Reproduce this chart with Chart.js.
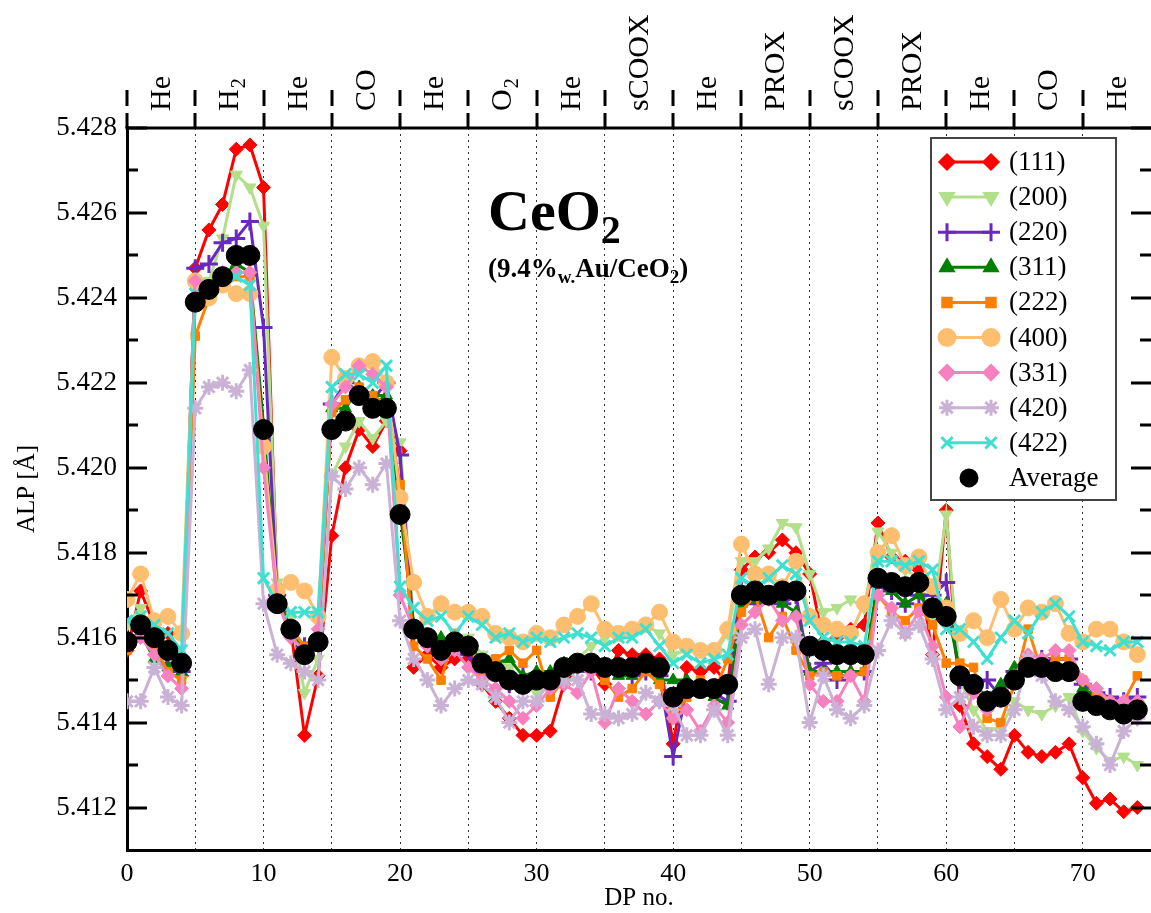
<!DOCTYPE html>
<html>
<head>
<meta charset="utf-8">
<script src="https://cdn.jsdelivr.net/npm/chart.js@4/dist/chart.umd.min.js"></script>
<style>
body{margin:0;background:#fff}
</style>
</head>
<body>
<canvas id="c" width="1151" height="913"></canvas>
<script>
// DP number is the x value
const dpNo = Array.from({length: 75}, (_, i) => i);

const xTicks = [0,5,10,15,20,25,30,35,40,45,50,55,60,65,70];
const yTicks = [5.412,5.414,5.416,5.418,5.420,5.422,5.424,5.426,5.428];
const yMinor = [5.413,5.415,5.417,5.419,5.421,5.423,5.425,5.427];
// gas atmosphere for each block of 5 DPs (top axis), _ = subscript
const stages = ['He','H_2','He','CO','He','O_2','He','sCOOX','He','PROX','sCOOX','PROX','He','CO','He'];

const s111 = [5.4157,5.4171,5.4163,5.4161,5.4151, 5.4247,5.4256,5.4262,5.4275,5.4276,
  5.4266,5.4172,5.4162,5.4137,5.4151, 5.4184,5.4200,5.4209,5.4205,5.4211,
  5.4204,5.4153,5.4156,5.4153,5.4155, 5.4155,5.4149,5.4145,5.4141,5.4137,
  5.4137,5.4138,5.4149,5.4153,5.4153, 5.4149,5.4157,5.4156,5.4156,5.4155,
  5.4135,5.4153,5.4152,5.4153,5.4149, 5.4176,5.4179,5.4180,5.4183,5.4180,
  5.4175,5.4159,5.4160,5.4162,5.4163, 5.4187,5.4179,5.4178,5.4176,5.4156,
  5.4190,5.4144,5.4135,5.4132,5.4129, 5.4137,5.4133,5.4132,5.4133,5.4135,
  5.4127,5.4121,5.4122,5.4119,5.4120];
const s200 = [5.4163,5.4167,5.4160,5.4158,5.4150, 5.4240,5.4244,5.4254,5.4269,5.4266,
  5.4257,5.4173,5.4165,5.4147,5.4155, 5.4198,5.4205,5.4211,5.4207,5.4211,
  5.4206,5.4163,5.4160,5.4158,5.4160, 5.4160,5.4156,5.4155,5.4153,5.4150,
  5.4147,5.4149,5.4153,5.4155,5.4158, 5.4160,5.4161,5.4161,5.4163,5.4161,
  5.4156,5.4157,5.4157,5.4156,5.4161, 5.4178,5.4178,5.4181,5.4187,5.4186,
  5.4175,5.4166,5.4167,5.4169,5.4167, 5.4185,5.4180,5.4176,5.4174,5.4165,
  5.4189,5.4150,5.4143,5.4138,5.4139, 5.4145,5.4143,5.4142,5.4144,5.4146,
  5.4138,5.4134,5.4131,5.4132,5.4130];
const s220 = [5.4158,5.4162,5.4160,5.4154,5.4152, 5.4247,5.4248,5.4253,5.4254,5.4258,
  5.4233,5.4170,5.4162,5.4158,5.4159, 5.4215,5.4220,5.4218,5.4216,5.4220,
  5.4203,5.4161,5.4159,5.4157,5.4159, 5.4156,5.4152,5.4151,5.4149,5.4151,
  5.4150,5.4150,5.4152,5.4153,5.4152, 5.4152,5.4153,5.4151,5.4152,5.4151,
  5.4132,5.4148,5.4148,5.4147,5.4145, 5.4171,5.4168,5.4170,5.4168,5.4170,
  5.4152,5.4154,5.4150,5.4152,5.4152, 5.4172,5.4171,5.4168,5.4170,5.4170,
  5.4173,5.4150,5.4149,5.4150,5.4146, 5.4152,5.4155,5.4155,5.4155,5.4155,
  5.4149,5.4147,5.4146,5.4145,5.4146];
const s311 = [5.4158,5.4161,5.4155,5.4153,5.4152, 5.4240,5.4241,5.4245,5.4248,5.4246,
  5.4210,5.4169,5.4162,5.4157,5.4160, 5.4214,5.4214,5.4219,5.4217,5.4217,
  5.4190,5.4163,5.4160,5.4160,5.4159, 5.4159,5.4154,5.4154,5.4155,5.4151,
  5.4152,5.4152,5.4154,5.4154,5.4153, 5.4153,5.4151,5.4151,5.4153,5.4150,
  5.4150,5.4150,5.4147,5.4146,5.4144, 5.4168,5.4169,5.4170,5.4168,5.4166,
  5.4152,5.4152,5.4152,5.4152,5.4152, 5.4174,5.4171,5.4168,5.4170,5.4166,
  5.4168,5.4152,5.4149,5.4146,5.4149, 5.4153,5.4155,5.4155,5.4153,5.4153,
  5.4148,5.4146,5.4145,5.4145,5.4145];
const s222 = [5.4157,5.4160,5.4158,5.4152,5.4150, 5.4231,5.4240,5.4245,5.4245,5.4245,
  5.4205,5.4168,5.4162,5.4158,5.4160, 5.4213,5.4216,5.4219,5.4217,5.4215,
  5.4196,5.4158,5.4155,5.4150,5.4161, 5.4159,5.4152,5.4155,5.4157,5.4154,
  5.4157,5.4146,5.4150,5.4154,5.4155, 5.4150,5.4146,5.4148,5.4152,5.4149,
  5.4141,5.4146,5.4150,5.4147,5.4155, 5.4166,5.4170,5.4160,5.4165,5.4157,
  5.4151,5.4152,5.4151,5.4151,5.4152, 5.4170,5.4166,5.4164,5.4167,5.4163,
  5.4154,5.4154,5.4153,5.4141,5.4140, 5.4149,5.4162,5.4152,5.4155,5.4155,
  5.4150,5.4147,5.4145,5.4145,5.4151];
const s400 = [5.4169,5.4175,5.4164,5.4165,5.4161, 5.4244,5.4240,5.4243,5.4241,5.4241,
  5.4205,5.4171,5.4173,5.4171,5.4165, 5.4226,5.4221,5.4224,5.4225,5.4220,
  5.4193,5.4173,5.4165,5.4168,5.4166, 5.4166,5.4165,5.4161,5.4160,5.4159,
  5.4161,5.4160,5.4163,5.4165,5.4168, 5.4162,5.4161,5.4162,5.4163,5.4166,
  5.4159,5.4158,5.4157,5.4157,5.4162, 5.4182,5.4175,5.4175,5.4172,5.4178,
  5.4165,5.4163,5.4162,5.4161,5.4168, 5.4180,5.4184,5.4177,5.4179,5.4172,
  5.4167,5.4161,5.4164,5.4160,5.4169, 5.4162,5.4167,5.4166,5.4168,5.4161,
  5.4159,5.4162,5.4162,5.4159,5.4156];
const s331 = [5.4158,5.4160,5.4156,5.4151,5.4148, 5.4244,5.4242,5.4246,5.4246,5.4246,
  5.4200,5.4169,5.4160,5.4157,5.4162, 5.4215,5.4219,5.4224,5.4222,5.4219,
  5.4170,5.4162,5.4158,5.4155,5.4157, 5.4153,5.4150,5.4148,5.4145,5.4141,
  5.4144,5.4148,5.4149,5.4147,5.4152, 5.4140,5.4148,5.4145,5.4142,5.4145,
  5.4141,5.4143,5.4138,5.4144,5.4140, 5.4163,5.4166,5.4169,5.4164,5.4165,
  5.4149,5.4145,5.4145,5.4151,5.4145, 5.4170,5.4167,5.4161,5.4166,5.4158,
  5.4146,5.4139,5.4147,5.4143,5.4145, 5.4151,5.4156,5.4155,5.4157,5.4157,
  5.4150,5.4148,5.4145,5.4145,5.4145];
const s420 = [5.4145,5.4145,5.4153,5.4146,5.4144, 5.4214,5.4219,5.4220,5.4218,5.4223,
  5.4168,5.4156,5.4154,5.4152,5.4150, 5.4198,5.4195,5.4200,5.4196,5.4201,
  5.4164,5.4155,5.4150,5.4144,5.4148, 5.4150,5.4149,5.4146,5.4140,5.4145,
  5.4145,5.4150,5.4150,5.4150,5.4142, 5.4142,5.4141,5.4142,5.4147,5.4145,
  5.4144,5.4137,5.4137,5.4143,5.4137, 5.4160,5.4162,5.4149,5.4160,5.4160,
  5.4140,5.4151,5.4143,5.4141,5.4144, 5.4157,5.4164,5.4161,5.4163,5.4155,
  5.4143,5.4146,5.4139,5.4137,5.4137, 5.4143,5.4155,5.4151,5.4145,5.4143,
  5.4139,5.4135,5.4130,5.4138,5.4141];
const s422 = [5.4164,5.4165,5.4163,5.4161,5.4157, 5.4241,5.4243,5.4245,5.4245,5.4243,
  5.4174,5.4168,5.4166,5.4166,5.4166, 5.4219,5.4222,5.4222,5.4220,5.4224,
  5.4172,5.4167,5.4164,5.4165,5.4161, 5.4165,5.4163,5.4160,5.4161,5.4159,
  5.4160,5.4159,5.4160,5.4161,5.4160, 5.4158,5.4160,5.4160,5.4162,5.4158,
  5.4154,5.4156,5.4154,5.4155,5.4156, 5.4174,5.4172,5.4174,5.4177,5.4175,
  5.4164,5.4160,5.4159,5.4159,5.4158, 5.4178,5.4178,5.4177,5.4178,5.4176,
  5.4162,5.4162,5.4159,5.4155,5.4160, 5.4164,5.4161,5.4166,5.4168,5.4165,
  5.4159,5.4158,5.4157,5.4159,5.4159];
const avg = [5.4159,5.4163,5.4160,5.4157,5.4154, 5.4239,5.4242,5.4245,5.4250,5.4250,
  5.4209,5.4168,5.4162,5.4156,5.4159, 5.4209,5.4211,5.4217,5.4214,5.4214,
  5.4189,5.4162,5.4160,5.4157,5.4159, 5.4158,5.4154,5.4152,5.4150,5.4149,
  5.4150,5.4150,5.4153,5.4154,5.4154, 5.4153,5.4153,5.4153,5.4154,5.4153,
  5.4146,5.4148,5.4148,5.4148,5.4149, 5.4170,5.4171,5.4170,5.4171,5.4171,
  5.4158,5.4157,5.4156,5.4156,5.4156, 5.4174,5.4173,5.4172,5.4173,5.4167,
  5.4165,5.4151,5.4149,5.4145,5.4146, 5.4150,5.4153,5.4153,5.4152,5.4152,
  5.4145,5.4144,5.4143,5.4142,5.4143];

const seriesNames = ['(111)','(200)','(220)','(311)','(222)','(400)','(331)','(420)','(422)','Average'];
const seriesData = [s111,s200,s220,s311,s222,s400,s331,s420,s422,avg];
const colors = ['#ff0000','#b2df8a','#6a28be','#008000','#ff7f00','#fdbf6f','#f781bf','#cab2d6','#40e0d0','#000000'];
const markers = ['rectRot','triangle','cross','triangle','rect','circle','rectRot','star','crossRot','circle'];
const markerRot = [0,180,0,0,0,0,0,0,0,0];
const markerSize = [7,7,9,7,6,8,7,8,8,10];

const FONT = "'Liberation Serif', 'DejaVu Serif', serif";

const datasets = seriesData.map(function(vals, i){
    const isAvg = seriesNames[i] == 'Average';
    return {
        label: seriesNames[i],
        data: vals.map((v, k) => ({x: dpNo[k], y: v})),
        borderColor: colors[i],
        backgroundColor: colors[i],
        borderWidth: 3,
        showLine: !isAvg,
        pointStyle: markers[i],
        rotation: markerRot[i],
        pointRadius: markerSize[i],
        pointBorderWidth: (markers[i] == 'cross' || markers[i] == 'crossRot' || markers[i] == 'star') ? 3 : 1,
        order: seriesData.length - i,
        tension: 0
    };
});

function drawSubText(ctx, parts, x, y, size, subSize, bold){
    // parts: [text, isSub]
    let cx = x;
    parts.forEach(function(p){
        ctx.font = (bold ? 'bold ' : '') + (p[1] ? subSize : size) + 'px ' + FONT;
        ctx.fillText(p[0], cx, p[1] ? y + size * 0.22 : y);
        cx += ctx.measureText(p[0]).width;
    });
}

const decor = {
    id: 'decor',
    afterDraw(chart) {
        const ctx = chart.ctx;
        const a = chart.chartArea;
        const xs = chart.scales.x, ys = chart.scales.y;
        ctx.save();
        ctx.strokeStyle = '#000';
        ctx.fillStyle = '#000';

        // top frame line
        ctx.lineWidth = 3;
        ctx.beginPath();
        ctx.moveTo(a.left - 1.5, a.top);
        ctx.lineTo(a.right, a.top);
        ctx.stroke();

        // top ticks (outward, split)
        xTicks.forEach(function(v){
            const px = Math.round(xs.getPixelForValue(v));
            ctx.beginPath();
            ctx.moveTo(px, a.top - 38); ctx.lineTo(px, a.top - 22);
            ctx.moveTo(px, a.top - 15); ctx.lineTo(px, a.top);
            ctx.stroke();
        });

        // stage labels, rotated
        ctx.textBaseline = 'middle';
        ctx.textAlign = 'left';
        stages.forEach(function(s, i){
            const cx = xs.getPixelForValue(i * 5 + 2.5);
            ctx.save();
            ctx.translate(cx + 1, a.top - 17);
            ctx.rotate(-Math.PI / 2);
            const bits = s.split('_');
            ctx.font = '30px ' + FONT;
            ctx.fillText(bits[0], 0, 0);
            if (bits[1]) {
                const w = ctx.measureText(bits[0]).width;
                ctx.font = '20px ' + FONT;
                ctx.fillText(bits[1], w + 1, 9);
            }
            ctx.restore();
        });

        // inward y ticks, left and right
        ctx.lineWidth = 3;
        yTicks.forEach(function(v){
            const py = Math.round(ys.getPixelForValue(v));
            ctx.beginPath();
            ctx.moveTo(a.left, py); ctx.lineTo(a.left + 20, py);
            ctx.moveTo(a.right, py); ctx.lineTo(a.right - 20, py);
            ctx.stroke();
        });
        yMinor.forEach(function(v){
            const py = Math.round(ys.getPixelForValue(v));
            ctx.beginPath();
            ctx.moveTo(a.left, py); ctx.lineTo(a.left + 11, py);
            ctx.moveTo(a.right, py); ctx.lineTo(a.right - 11, py);
            ctx.stroke();
        });

        // title
        ctx.textBaseline = 'alphabetic';
        drawSubText(ctx, [['CeO', false], ['2', true]], 488, 230, 58, 40, true);
        drawSubText(ctx, [['(9.4%', false], ['w.', true], ['Au/CeO', false], ['2', true], [')', false]], 488, 277, 27, 19, true);

        // legend box
        const bx = 931, by = 138, bw = 185, bh = 362;
        ctx.fillStyle = '#fff';
        ctx.fillRect(bx, by, bw, bh);
        ctx.strokeStyle = '#444';
        ctx.lineWidth = 2;
        ctx.strokeRect(bx, by, bw, bh);
        ctx.textBaseline = 'middle';
        ctx.font = '27px ' + FONT;
        chart.data.datasets.forEach(function(ds, i){
            const ly = by + 24 + i * 35.1;
            ctx.strokeStyle = ds.borderColor;
            ctx.fillStyle = ds.backgroundColor;
            ctx.lineWidth = 3;
            if (ds.showLine) {
                ctx.beginPath();
                ctx.moveTo(bx + 16, ly); ctx.lineTo(bx + 60, ly);
                ctx.stroke();
                Chart.helpers.drawPoint(ctx, {pointStyle: ds.pointStyle, rotation: ds.rotation, radius: ds.pointRadius, borderWidth: ds.pointBorderWidth}, bx + 16, ly);
                Chart.helpers.drawPoint(ctx, {pointStyle: ds.pointStyle, rotation: ds.rotation, radius: ds.pointRadius, borderWidth: ds.pointBorderWidth}, bx + 60, ly);
            } else {
                Chart.helpers.drawPoint(ctx, {pointStyle: ds.pointStyle, rotation: 0, radius: 8, borderWidth: 1}, bx + 38, ly);
            }
            ctx.fillStyle = '#000';
            ctx.fillText(ds.label, bx + 78, ly + 1);
        });
        ctx.restore();
    }
};

const ctx = document.getElementById('c').getContext('2d');
const chart = new Chart(ctx, {
    type: 'line',
    data: { datasets: datasets },
    options: {
        responsive: false,
        animation: false,
        devicePixelRatio: 1,
        layout: { autoPadding: false, padding: { top: 128, left: 0, right: 0, bottom: 0 } },
        plugins: { legend: { display: false }, tooltip: { enabled: false } },
        scales: {
            x: {
                type: 'linear',
                min: 0,
                max: 75,
                afterFit: function(s){ s.height = 63; },
                afterBuildTicks: function(s){ s.ticks = xTicks.map(v => ({value: v})); },
                grid: {
                    drawTicks: false,
                    lineWidth: 1,
                    color: function(c){ return (c.tick && c.tick.value > 0) ? '#333' : 'rgba(0,0,0,0)'; }
                },
                border: { display: true, color: '#000', width: 3, dash: [2, 4] },
                ticks: {
                    autoSkip: false,
                    maxRotation: 0,
                    padding: 9,
                    color: '#000',
                    font: { family: FONT, size: 26 },
                    callback: function(v){ return v % 10 == 0 ? String(v) : ''; }
                },
                title: {
                    display: true,
                    text: 'DP no.',
                    color: '#000',
                    font: { family: FONT, size: 25 },
                    padding: { top: 0, bottom: 0 }
                }
            },
            y: {
                min: 5.411,
                max: 5.428,
                afterFit: function(s){ s.width = 127; },
                afterBuildTicks: function(s){ s.ticks = yTicks.map(v => ({value: v})); },
                grid: { display: false, drawTicks: false },
                border: { display: true, color: '#000', width: 3 },
                ticks: {
                    padding: 10,
                    color: '#000',
                    font: { family: FONT, size: 27 },
                    callback: function(v){ return v.toFixed(3); }
                },
                title: {
                    display: true,
                    text: 'ALP [Å]',
                    color: '#000',
                    font: { family: FONT, size: 25 },
                    padding: { top: 12, bottom: 0 }
                }
            }
        }
    },
    plugins: [decor]
});
</script>
</body>
</html>
